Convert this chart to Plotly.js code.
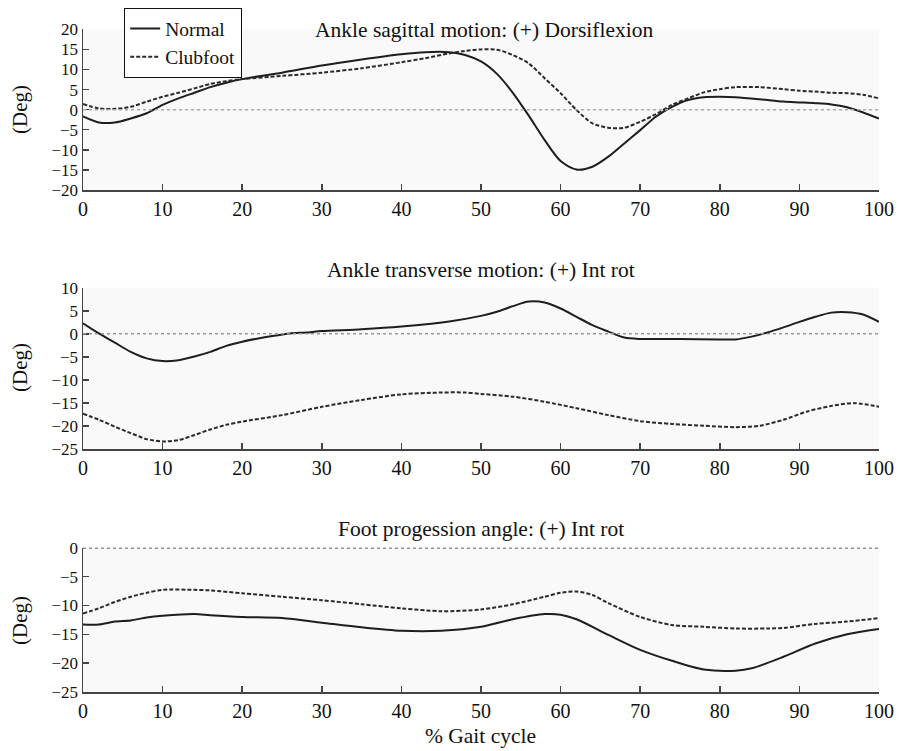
<!DOCTYPE html>
<html>
<head>
<meta charset="utf-8">
<script src="https://cdn.plot.ly/plotly-3.0.1.min.js"></script>
<style>html,body{margin:0;padding:0;background:#fff;}#chart{width:902px;height:751px;}</style>
</head>
<body>
<div id="chart"></div>
<script>
// ---- Data ----
const sagNormalX = [0,2,4,6,8,10,12,14,16,18,20,25,30,35,40,43,46,48,50,52,54,56,58,60,62,64,66,68,70,72,74,76,78,80,82,85,88,90,92,94,96,98,100];
const sagNormalY = [-1.7,-3.2,-3.2,-2.2,-0.9,1.2,2.8,4.2,5.6,6.7,7.6,9.2,11.0,12.5,13.8,14.3,14.3,13.6,12.0,8.9,4.2,-1.5,-7.6,-12.8,-14.9,-14.2,-11.7,-8.4,-5.1,-1.7,0.7,2.4,3.1,3.2,3.1,2.6,2.0,1.8,1.6,1.3,0.6,-0.7,-2.2];
const sagClubX = [0,2,4,6,8,10,12,14,16,18,20,25,30,35,40,43,46,48,50,52,54,56,58,60,62,64,66,68,70,72,74,76,78,80,82,85,88,90,92,94,96,98,100];
const sagClubY = [1.4,0.3,0.2,0.7,2.0,3.2,4.2,5.3,6.4,7.1,7.6,8.4,9.2,10.3,11.8,12.8,14.0,14.6,15.0,14.9,13.6,11.5,7.8,4.1,-0.1,-3.4,-4.5,-4.5,-3.0,-1.1,1.2,2.8,4.3,5.1,5.6,5.6,5.1,4.7,4.5,4.2,4.1,3.7,2.8];

const trNormalX = [0,2,4,6,8,10,12,14,16,18,20,22,24,26,28,30,35,40,46,50,52,54,56,58,60,62,64,66,68,70,75,80,82,84,86,88,90,92,94,96,98,100];
const trNormalY = [2.3,0.1,-1.9,-3.9,-5.3,-5.9,-5.7,-4.9,-3.9,-2.6,-1.7,-1.0,-0.4,0.1,0.3,0.6,1.0,1.6,2.7,3.9,4.8,6.0,7.0,6.8,5.5,3.7,1.9,0.5,-0.8,-1.1,-1.1,-1.2,-1.2,-0.6,0.3,1.4,2.6,3.7,4.6,4.7,4.2,2.6];
const trClubX = [0,2,4,6,8,10,12,14,16,18,20,25,30,35,40,45,48,50,54,58,62,66,70,74,78,82,85,88,91,94,97,100];
const trClubY = [-17.3,-18.6,-20.1,-21.5,-22.8,-23.3,-23.0,-21.9,-20.7,-19.7,-19.0,-17.6,-15.8,-14.3,-13.1,-12.7,-12.7,-13.0,-13.6,-14.7,-16.1,-17.6,-18.9,-19.5,-19.9,-20.2,-19.9,-18.6,-16.8,-15.6,-15.0,-15.8];

const fpNormalX = [0,2,4,6,8,10,14,16,20,25,30,35,40,45,50,54,58,60,62,66,70,74,78,82,84,88,92,96,100];
const fpNormalY = [-13.3,-13.3,-12.8,-12.6,-12.1,-11.8,-11.5,-11.7,-12.0,-12.2,-13.0,-13.8,-14.4,-14.4,-13.7,-12.4,-11.5,-11.6,-12.4,-15.1,-17.7,-19.6,-21.1,-21.3,-20.9,-18.9,-16.6,-15.0,-14.1];
const fpClubX = [0,2,4,6,8,10,14,16,20,25,30,35,40,45,50,54,58,60,62,64,66,70,74,78,82,86,88,92,96,100];
const fpClubY = [-11.4,-10.5,-9.4,-8.5,-7.8,-7.3,-7.3,-7.4,-7.9,-8.5,-9.1,-9.8,-10.5,-11.0,-10.7,-9.8,-8.5,-7.8,-7.6,-8.2,-9.6,-12.0,-13.4,-13.7,-14.0,-14.0,-13.9,-13.2,-12.8,-12.2];

const panelTitles = ["Ankle sagittal motion: (+) Dorsiflexion", "Ankle transverse motion: (+) Int rot", "Foot progession angle: (+) Int rot"];
const seriesNames = ["Normal", "Clubfoot"];
const xTickVals = [0,10,20,30,40,50,60,70,80,90,100];
const yTicks1 = [-20,-15,-10,-5,0,5,10,15,20];
const yTicks2 = [-25,-20,-15,-10,-5,0,5,10];
const yTicks3 = [-25,-20,-15,-10,-5,0];
const yLabel = "(Deg)";
const xLabel = "% Gait cycle";

// ---- Layout helpers ----
const W = 902, H = 751;
const FONT = "Liberation Serif, Times New Roman, serif";
const px = v => v / W;
const py = v => 1 - v / H;

const normalLine = {color: '#1e1e1e', width: 2, shape: 'spline', smoothing: 0.8};
const clubLine = {color: '#2a2a2a', width: 2, dash: '4px,2px', shape: 'spline', smoothing: 0.8};

function tr(x, y, xa, ya, name, line, show) {
  return {x: x, y: y, xaxis: xa, yaxis: ya, name: name, type: 'scatter', mode: 'lines',
          line: line, showlegend: show, hoverinfo: 'skip'};
}

const traces = [
  tr(sagNormalX, sagNormalY, 'x', 'y', seriesNames[0], normalLine, true),
  tr(sagClubX, sagClubY, 'x', 'y', seriesNames[1], clubLine, true),
  tr(trNormalX, trNormalY, 'x2', 'y2', seriesNames[0], normalLine, false),
  tr(trClubX, trClubY, 'x2', 'y2', seriesNames[1], clubLine, false),
  tr(fpNormalX, fpNormalY, 'x3', 'y3', seriesNames[0], normalLine, false),
  tr(fpClubX, fpClubY, 'x3', 'y3', seriesNames[1], clubLine, false)
];

const xDomain = [px(83), px(879)];
function xax(anchor) {
  return {domain: xDomain, anchor: anchor, range: [0, 100], tickvals: xTickVals,
          ticks: 'inside', ticklen: 6, tickwidth: 1.5, tickcolor: '#444',
          showline: true, linecolor: '#444', linewidth: 1.5, showgrid: false, zeroline: false,
          tickfont: {family: FONT, size: 20, color: '#111'}, automargin: false};
}
function yax(anchor, dom, range, ticks) {
  return {domain: dom, anchor: anchor, range: range, tickvals: ticks,
          ticktext: ticks.map(t => t < 0 ? '\u2212' + Math.abs(t) : String(t)),
          ticks: 'inside', ticklen: 6, tickwidth: 1.5, tickcolor: '#444',
          showline: true, linecolor: '#444', linewidth: 1.5, showgrid: false, zeroline: false,
          tickfont: {family: FONT, size: 17, color: '#111'}, automargin: false};
}

const layout = {
  width: W, height: H,
  margin: {l: 0, r: 0, t: 0, b: 0},
  paper_bgcolor: '#ffffff',
  plot_bgcolor: '#f9f9f9',
  font: {family: FONT, color: '#111'},
  xaxis: xax('y'),
  yaxis: yax('x', [py(190), py(29.3)], [-20, 20], yTicks1),
  xaxis2: xax('y2'),
  yaxis2: yax('x2', [py(449.3), py(287.7)], [-25, 10], yTicks2),
  xaxis3: xax('y3'),
  yaxis3: yax('x3', [py(692), py(547.7)], [-25, 0], yTicks3),
  showlegend: true,
  legend: {x: px(124), y: py(8), xanchor: 'left', yanchor: 'top',
           bgcolor: '#ffffff', bordercolor: '#111', borderwidth: 1.2,
           font: {family: FONT, size: 19.5, color: '#111'}, itemwidth: 30,
           tracegroupgap: 0, itemclick: false},
  shapes: [
    {type: 'line', xref: 'x', yref: 'y', x0: 0, x1: 100, y0: 0, y1: 0, line: {color: '#aaaaaa', width: 1.5, dash: 'dot'}},
    {type: 'line', xref: 'x2', yref: 'y2', x0: 0, x1: 100, y0: 0, y1: 0, line: {color: '#999999', width: 1.5, dash: 'dot'}},
    {type: 'line', xref: 'x3', yref: 'y3', x0: 0, x1: 100, y0: 0, y1: 0, line: {color: '#333333', width: 1.5, dash: 'dot'}}
  ],
  annotations: [
    {text: panelTitles[0], xref: 'paper', yref: 'paper', x: px(484), y: py(30), xanchor: 'center', yanchor: 'middle', showarrow: false, font: {family: FONT, size: 21.5, color: '#111'}},
    {text: panelTitles[1], xref: 'paper', yref: 'paper', x: px(481), y: py(270), xanchor: 'center', yanchor: 'middle', showarrow: false, font: {family: FONT, size: 21.5, color: '#111'}},
    {text: panelTitles[2], xref: 'paper', yref: 'paper', x: px(481), y: py(529), xanchor: 'center', yanchor: 'middle', showarrow: false, font: {family: FONT, size: 21.5, color: '#111'}},
    {text: yLabel, xref: 'paper', yref: 'paper', x: px(20), y: py(110), xanchor: 'center', yanchor: 'middle', textangle: -90, showarrow: false, font: {family: FONT, size: 21, color: '#111'}},
    {text: yLabel, xref: 'paper', yref: 'paper', x: px(20), y: py(368), xanchor: 'center', yanchor: 'middle', textangle: -90, showarrow: false, font: {family: FONT, size: 21, color: '#111'}},
    {text: yLabel, xref: 'paper', yref: 'paper', x: px(20), y: py(621), xanchor: 'center', yanchor: 'middle', textangle: -90, showarrow: false, font: {family: FONT, size: 21, color: '#111'}},
    {text: xLabel, xref: 'paper', yref: 'paper', x: px(481), y: py(736), xanchor: 'center', yanchor: 'middle', showarrow: false, font: {family: FONT, size: 21.5, color: '#111'}}
  ]
};

Plotly.newPlot('chart', traces, layout, {staticPlot: true, displayModeBar: false});
</script>
</body>
</html>
